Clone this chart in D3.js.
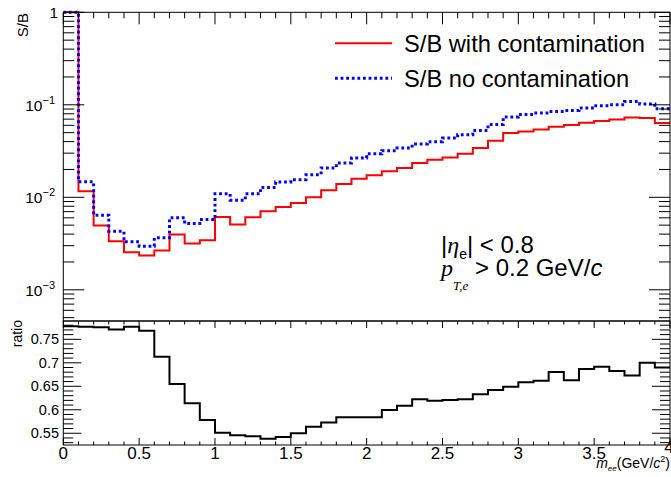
<!DOCTYPE html>
<html>
<head>
<meta charset="utf-8">
<script src="https://cdn.jsdelivr.net/npm/d3@7"></script>
<style>
 body { margin: 0; background: #fff; }
 text { font-family: "Liberation Sans", Arial, Helvetica, sans-serif; fill: #000; }
 .serif { font-family: "Liberation Serif", "Times New Roman", serif; font-style: italic; }
</style>
</head>
<body>
<svg id="chart" width="671" height="477"></svg>
<script>
// bin edges in m_ee (GeV/c^2), 40 bins of 0.1
const binEdges = d3.range(0, 41).map(i => +(i * 0.1).toFixed(1));

// S/B with contamination (red)
const sbWithCont = [1, 0.0116, 0.00495, 0.00335, 0.00255, 0.00235, 0.00266, 0.00396, 0.00317, 0.00344,
  0.00611, 0.00508, 0.00608, 0.00706, 0.00788, 0.0087, 0.0100, 0.0119, 0.01395, 0.0159,
  0.01727, 0.0191, 0.0208, 0.0235, 0.0255, 0.0270, 0.0296, 0.0341, 0.0409, 0.0495,
  0.0513, 0.0540, 0.0578, 0.0605, 0.0640, 0.0670, 0.0695, 0.0730, 0.0718, 0.0635];

// S/B without contamination (blue dotted)
const sbNoCont = [1, 0.0147, 0.0064, 0.0043, 0.0033, 0.00296, 0.00365, 0.0060, 0.0052, 0.00575,
  0.0109, 0.0093, 0.0109, 0.0128, 0.01466, 0.0155, 0.01758, 0.0208, 0.0235, 0.0266,
  0.0296, 0.0319, 0.0341, 0.0377, 0.0399, 0.0437, 0.0475, 0.0528, 0.0613, 0.0737,
  0.0786, 0.0814, 0.0847, 0.0868, 0.0921, 0.0975, 0.100, 0.1085, 0.1018, 0.0906];

// ratio of the two
const ratioVals = [0.778, 0.777, 0.7755, 0.771, 0.777, 0.768, 0.713, 0.655, 0.614, 0.578,
  0.551, 0.546, 0.5436, 0.5385, 0.542, 0.55, 0.564, 0.5727, 0.584, 0.584,
  0.584, 0.5995, 0.6087, 0.6223, 0.619, 0.621, 0.6225, 0.633, 0.642, 0.649,
  0.6585, 0.662, 0.6805, 0.6627, 0.6868, 0.6917, 0.6826, 0.673, 0.700, 0.690];

const topMajor = [1e-3, 1e-2, 1e-1, 1];
const topLabels = [["10", "\u22123"], ["10", "\u22122"], ["10", "\u22121"], ["1", ""]];
const ratioTicks = [0.55, 0.6, 0.65, 0.7, 0.75];
const xTicks = [0, 0.5, 1, 1.5, 2, 2.5, 3, 3.5, 4];
const legendItems = ["S/B with contamination", "S/B no contamination"];

const svg = d3.select("#chart");
const X0 = 63.3, X1 = 670, TOP0 = 12.3, MID = 321, BOT = 445;

const x = d3.scaleLinear().domain([0, 4]).range([X0, X1]);
const yTop = d3.scaleLog().domain([4.6e-4, 1]).range([MID, TOP0]);
const yRat = d3.scaleLinear().domain([0.525, 0.789]).range([BOT, MID]);

// clip areas
const defs = svg.append("defs");
defs.append("clipPath").attr("id", "clipTop").append("rect")
  .attr("x", X0).attr("y", TOP0 - 2).attr("width", X1 - X0).attr("height", MID - TOP0 + 2);
defs.append("clipPath").attr("id", "clipBot").append("rect")
  .attr("x", X0).attr("y", MID).attr("width", X1 - X0).attr("height", BOT - MID);

function stepPts(vals) {
  const pts = vals.map((v, i) => [binEdges[i], v]);
  pts.push([binEdges[vals.length], vals[vals.length - 1]]);
  return pts;
}

const lineTop = d3.line().x(d => x(d[0])).y(d => yTop(d[1])).curve(d3.curveStepAfter);
const lineBot = d3.line().x(d => x(d[0])).y(d => yRat(d[1])).curve(d3.curveStepAfter);

// histograms
svg.append("path").attr("clip-path", "url(#clipTop)")
  .attr("d", lineTop(stepPts(sbWithCont)))
  .attr("fill", "none").attr("stroke", "#ff0000").attr("stroke-width", 2);
svg.append("path").attr("clip-path", "url(#clipTop)")
  .attr("d", lineTop(stepPts(sbNoCont)))
  .attr("fill", "none").attr("stroke", "#0000ff").attr("stroke-width", 3)
  .attr("stroke-dasharray", "2.8,2.8");
svg.append("path").attr("clip-path", "url(#clipBot)")
  .attr("d", lineBot(stepPts(ratioVals)))
  .attr("fill", "none").attr("stroke", "#000").attr("stroke-width", 2);

// frames
const g = svg.append("g").attr("stroke", "#000").attr("stroke-width", 1).attr("fill", "none");
g.append("rect").attr("x", X0).attr("y", TOP0).attr("width", X1 - X0).attr("height", MID - TOP0);
g.append("rect").attr("x", X0).attr("y", MID).attr("width", X1 - X0).attr("height", BOT - MID);

function tick(x1, y1, x2, y2) {
  g.append("line").attr("x1", x1).attr("y1", y1).attr("x2", x2).attr("y2", y2);
}

// top panel y ticks (log)
const yDom = yTop.domain();
for (let e = -4; e <= 0; e++) {
  for (let k = 1; k <= 9; k++) {
    const v = k * Math.pow(10, e);
    if (v < yDom[0] || v > yDom[1] * 1.0001) continue;
    const len = k === 1 ? 21 : 11;
    const yy = yTop(v);
    tick(X0, yy, X0 + len, yy);
    tick(X1, yy, X1 - len, yy);
  }
}
// top panel x ticks on upper edge
d3.range(0, 41).forEach(i => {
  const xx = x(i * 0.1);
  tick(xx, TOP0, xx, TOP0 + (i % 5 === 0 ? 12 : 6));
});

// ratio panel y ticks
d3.range(53, 79).forEach(i => {
  const yy = yRat(i / 100);
  const len = i % 5 === 0 ? 18 : 10;
  tick(X0, yy, X0 + len, yy);
  tick(X1, yy, X1 - len, yy);
});
// ratio panel x ticks
d3.range(0, 41).forEach(i => {
  const xx = x(i * 0.1);
  const len = i % 5 === 0 ? 7 : 3.5;
  tick(xx, BOT, xx, BOT - len);
  tick(xx, MID, xx, MID + len);
});

// top y labels
topLabels.forEach((lab, i) => {
  const t = svg.append("text").attr("text-anchor", "end")
    .attr("x", lab[1] ? 55 : 58).attr("y", yTop(topMajor[i]) + 6)
    .attr("font-size", "15.5px");
  t.append("tspan").text(lab[0]);
  if (lab[1]) t.append("tspan").attr("font-size", "11px").attr("dy", -7).text(lab[1]);
});

// ratio y labels
ratioTicks.forEach(v => {
  svg.append("text").attr("text-anchor", "end").attr("x", 59).attr("y", yRat(v) + 5)
    .attr("font-size", "14.5px").text(String(v));
});

// x labels (the last one is lifted, as ROOT does next to the title)
xTicks.forEach((v, i) => {
  const last = i === xTicks.length - 1;
  svg.append("text").attr("text-anchor", "middle").attr("x", x(v) - (last ? 1 : 0))
    .attr("y", last ? 453 : 459)
    .attr("font-size", "17px").text(String(v));
});

// axis titles
svg.append("text").attr("transform", "translate(28,13) rotate(-90)")
  .attr("text-anchor", "end").attr("font-size", "15px").text("S/B");
svg.append("text").attr("transform", "translate(22,320) rotate(-90)")
  .attr("text-anchor", "end").attr("font-size", "14px").text("ratio");

const xt = svg.append("text").attr("text-anchor", "end").attr("x", 670).attr("y", 468)
  .attr("font-size", "14px");
xt.append("tspan").attr("font-style", "italic").text("m");
xt.append("tspan").attr("font-style", "italic").attr("font-size", "8px").attr("dy", 3).text("ee");
xt.append("tspan").attr("dy", -3).text("(GeV/");
xt.append("tspan").attr("font-style", "italic").text("c");
xt.append("tspan").attr("font-size", "9px").attr("dy", -6).text("2");
xt.append("tspan").attr("dy", 6).text(")");

// legend
const legColors = ["#ff0000", "#0000ff"];
legendItems.forEach((txt, i) => {
  const ly = 43.3 + i * 35;
  svg.append("line").attr("x1", 335).attr("x2", 392).attr("y1", ly).attr("y2", ly)
    .attr("stroke", legColors[i]).attr("stroke-width", i ? 3 : 2)
    .attr("stroke-dasharray", i ? "2.8,2.8" : null);
  svg.append("text").attr("x", 404).attr("y", ly + 8.5).attr("font-size", "23.7px").text(txt);
});

// cut annotation
const a1 = svg.append("text").attr("x", 441).attr("y", 253).attr("font-size", "24px");
a1.append("tspan").text("|");
a1.append("tspan").attr("class", "serif").text("\u03b7");
a1.append("tspan").attr("font-size", "14px").attr("dy", 6).text("e");
a1.append("tspan").attr("dy", -6).text("| < 0.8");

const a2 = svg.append("text").attr("x", 441).attr("y", 276).attr("font-size", "24px");
a2.append("tspan").attr("class", "serif").text("p");
a2.append("tspan").attr("class", "serif").attr("font-size", "13px").attr("dy", 14).text("T,e");
a2.append("tspan").attr("dy", -14).text(" > 0.2 GeV/");
a2.append("tspan").attr("font-style", "italic").text("c");
</script>
</body>
</html>
